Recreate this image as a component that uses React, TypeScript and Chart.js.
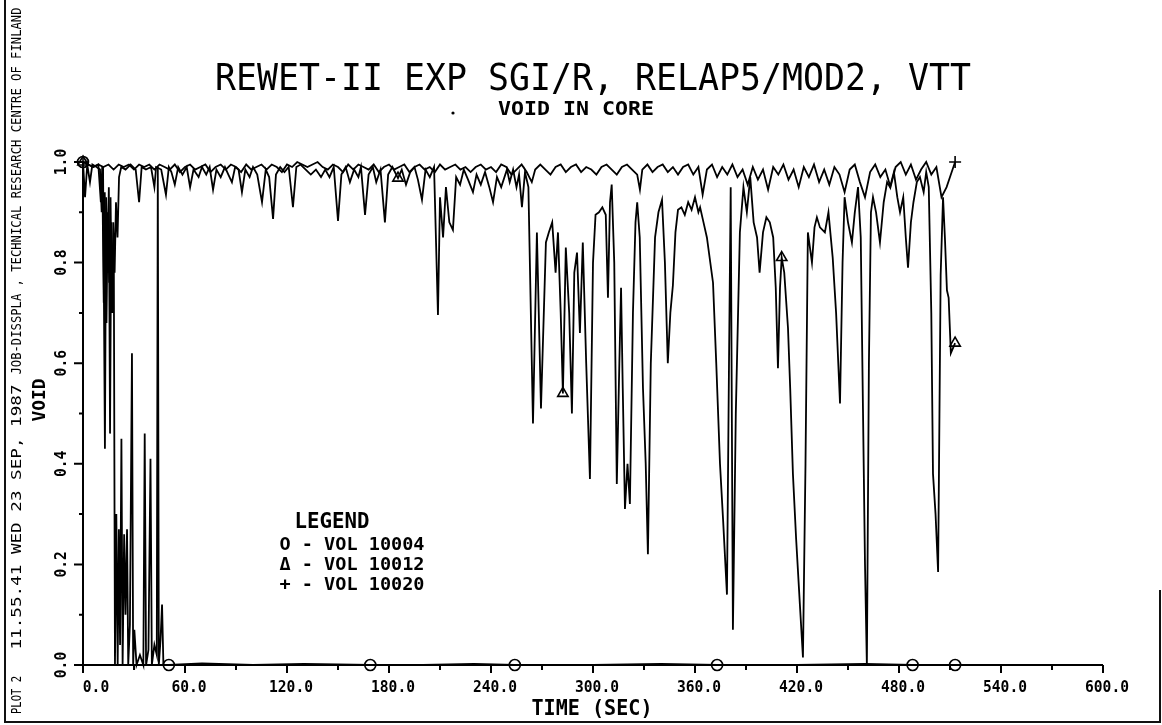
import React, { useEffect, useRef } from 'react';
import { Chart, registerables } from 'chart.js';

Chart.register(...registerables);

// ---------- data (time in s, void fraction) ----------
const vol10004: [number, number][] = [
  [0, 1.0], [1.2, 0.93], [2.5, 0.995], [4.1, 0.96], [5.5, 0.995], [8, 0.99], [10, 0.985], [11, 0.9],
  [11.8, 0.99], [12.9, 0.43], [13.6, 0.93], [14.4, 0.78], [15.2, 0.95], [15.9, 0.46], [16.6, 0.88],
  [17.4, 0.7], [18.1, 0.84], [18.8, 0.0], [19.6, 0.3], [20.4, 0.0], [21.1, 0.27], [21.8, 0.04],
  [22.6, 0.45], [23.3, 0.0], [24.2, 0.26], [25.0, 0.1], [25.9, 0.27], [26.6, 0.0], [27.6, 0.08],
  [28.8, 0.62], [29.5, 0.0], [30.2, 0.07], [31.5, 0.0], [33.5, 0.02], [35.5, 0.0], [36.3, 0.46],
  [37.1, 0.0], [38.5, 0.03], [39.7, 0.41], [40.5, 0.0], [42, 0.04], [43.4, 0.02], [44.0, 0.99],
  [44.6, 0.0], [45.6, 0.05], [46.5, 0.12], [47.3, 0.0], [50.5, 0.0], [70, 0.003], [100, 0.0],
  [130, 0.002], [169, 0.0], [200, 0.0], [230, 0.002], [254, 0.0], [300, 0.0], [340, 0.002],
  [373, 0.0], [420, 0.0], [460, 0.002], [488, 0.0], [513, 0.0],
];

const vol10012: [number, number][] = [
  [0, 1.0], [3, 0.995], [6, 0.99], [9, 0.995], [10.5, 0.92], [11.3, 0.99], [12.2, 0.72], [12.8, 0.94],
  [13.8, 0.68], [14.6, 0.9], [15.4, 0.76], [16.2, 0.93], [17.0, 0.7], [17.8, 0.88], [18.6, 0.78],
  [19.4, 0.92], [20.3, 0.85], [21.2, 0.97], [22.5, 0.99], [25, 0.985], [28, 0.995], [31, 0.985],
  [33, 0.92], [34.5, 0.99], [37, 0.985], [40, 0.99], [42, 0.95], [43, 0.99], [46, 0.985],
  [48.8, 0.935], [50.5, 0.99], [52, 0.98], [54, 0.955], [56, 0.99], [58.5, 0.975], [61, 0.99],
  [63, 0.95], [65, 0.985], [68, 0.97], [70, 0.99], [72.5, 0.975], [74.5, 0.99], [76.5, 0.945],
  [78.5, 0.985], [81, 0.97], [83.5, 0.99], [85.5, 0.975], [87.6, 0.96], [89.5, 0.99], [91.5, 0.985],
  [93.5, 0.94], [95.5, 0.985], [98, 0.97], [100, 0.99], [102.5, 0.975], [105.3, 0.92], [107.5, 0.985],
  [109.5, 0.97], [111.8, 0.887], [113.5, 0.975], [116, 0.99], [118.5, 0.98], [121, 0.99],
  [123.5, 0.91], [125.5, 0.99], [128, 0.995], [131, 0.985], [134, 0.975], [137, 0.985], [140, 0.97],
  [142.5, 0.985], [145, 0.97], [147.5, 0.99], [150, 0.883], [152, 0.975], [154.5, 0.99], [157, 0.96],
  [159.5, 0.985], [162, 0.97], [163.5, 0.99], [165.9, 0.895], [168, 0.975], [170.5, 0.99],
  [172.5, 0.96], [175, 0.985], [177.6, 0.88], [179.5, 0.975], [182, 0.99], [185.3, 0.968],
  [187.5, 0.985], [190, 0.955], [192.5, 0.98], [195, 0.99], [197, 0.965], [199.4, 0.925],
  [201.5, 0.985], [204, 0.97], [206.5, 0.99], [208.8, 0.696], [210, 0.93], [211.8, 0.85],
  [213.5, 0.95], [215.5, 0.88], [217.6, 0.865], [219.5, 0.97], [221.8, 0.955], [224, 0.985],
  [226.5, 0.965], [229.4, 0.94], [231.5, 0.975], [234, 0.955], [236.5, 0.98], [239, 0.95],
  [241.2, 0.92], [243.5, 0.97], [246, 0.95], [249.4, 0.985], [251, 0.96], [253, 0.985], [255, 0.95],
  [256.5, 0.975], [258.2, 0.91], [260, 0.98], [262, 0.95], [264.7, 0.48], [267, 0.86], [269.4, 0.51],
  [272.3, 0.84], [274, 0.86], [276, 0.88], [278, 0.78], [279.4, 0.86], [281, 0.7], [282.3, 0.54],
  [284, 0.83], [286, 0.7], [287.6, 0.5], [289, 0.78], [290.6, 0.82], [292.3, 0.66], [294, 0.84],
  [296, 0.6], [298.2, 0.37], [300, 0.8], [301.5, 0.895], [303.5, 0.9], [305.5, 0.91], [307.5, 0.895],
  [308.8, 0.73], [310, 0.92], [311, 0.955], [312.5, 0.8], [314, 0.36], [315.5, 0.6], [316.5, 0.75],
  [317.5, 0.55], [318.8, 0.31], [320.3, 0.4], [321.7, 0.32], [323.5, 0.7], [325, 0.88], [326, 0.92],
  [327.5, 0.85], [329.4, 0.55], [331, 0.4], [332.3, 0.22], [334, 0.6], [336.5, 0.85], [338.5, 0.9],
  [340.6, 0.925], [342.3, 0.8], [344, 0.6], [345.5, 0.7], [347, 0.755], [348.5, 0.86], [350, 0.905],
  [352, 0.91], [354, 0.895], [356, 0.92], [358, 0.905], [360, 0.93], [362, 0.9], [363, 0.91],
  [365, 0.88], [367, 0.85], [370.6, 0.76], [372.5, 0.6], [374.7, 0.4], [376.5, 0.29], [378.8, 0.14],
  [380, 0.6], [381, 0.95], [382.3, 0.07], [384, 0.5], [386.4, 0.86], [388.5, 0.95], [390.5, 0.9],
  [392.5, 0.97], [394.5, 0.88], [396.5, 0.85], [398, 0.78], [400, 0.86], [402, 0.89], [404, 0.88],
  [406, 0.85], [407.5, 0.75], [408.8, 0.59], [410, 0.75], [411, 0.81], [412.5, 0.78], [414.7, 0.67],
  [416, 0.55], [417.6, 0.38], [419.5, 0.25], [421.7, 0.12], [423.5, 0.015], [425, 0.4], [426.4, 0.86],
  [428.8, 0.8], [430.3, 0.87], [431.7, 0.89], [433.5, 0.87], [436.4, 0.86], [438.5, 0.9], [441, 0.81],
  [443, 0.7], [445.3, 0.52], [446.8, 0.8], [448, 0.93], [450, 0.88], [452.3, 0.84], [454, 0.9],
  [455.9, 0.95], [457.5, 0.85], [458.8, 0.51], [460, 0.2], [461.1, 0.0], [462.3, 0.6], [463.5, 0.9],
  [464.7, 0.93], [466.5, 0.9], [468.8, 0.84], [471, 0.92], [473, 0.96], [474.7, 0.95], [477, 0.98],
  [479, 0.93], [480.6, 0.9], [482.5, 0.93], [484, 0.85], [485.3, 0.79], [487, 0.88], [488.5, 0.92],
  [490.5, 0.96], [492.3, 0.97], [494.5, 0.94], [496, 0.98], [497.5, 0.95], [499, 0.7], [500, 0.38],
  [501.5, 0.3], [503, 0.185], [503.8, 0.5], [504.5, 0.775], [505.9, 0.93], [507, 0.85], [508.2, 0.745],
  [509.2, 0.73], [510.5, 0.62], [513, 0.64],
];

const vol10020: [number, number][] = [
  [0, 1.0], [3, 0.995], [6, 0.99], [9, 0.995], [12, 0.99], [15, 0.995], [18, 0.985], [21, 0.995],
  [24, 0.99], [27, 0.995], [30, 0.985], [33, 0.995], [36, 0.99], [39, 0.995], [42, 0.985], [45, 0.995],
  [48, 0.99], [51, 0.985], [54, 0.995], [57, 0.98], [60, 0.99], [63, 0.995], [66, 0.985], [69, 0.99],
  [72, 0.995], [75, 0.98], [78, 0.99], [81, 0.995], [84, 0.985], [87, 0.995], [90, 0.99], [93, 0.98],
  [96, 0.995], [99, 0.985], [102, 0.99], [105, 0.995], [108, 0.985], [111, 0.995], [114, 0.99],
  [117, 0.98], [120, 0.995], [123, 0.99], [126, 1.0], [129, 0.995], [132, 0.99], [135, 0.995],
  [138, 1.0], [141, 0.99], [144, 0.985], [147, 0.995], [150, 0.99], [153, 0.98], [156, 0.995],
  [159, 0.985], [162, 0.995], [165, 0.99], [168, 0.985], [171, 0.995], [174, 0.98], [177, 0.99],
  [180, 0.995], [183, 0.985], [186, 0.99], [189, 0.995], [192, 0.98], [195, 0.99], [198, 0.995],
  [201, 0.985], [204, 0.99], [207, 0.98], [210, 0.995], [213, 0.985], [216, 0.99], [219, 0.995],
  [222, 0.985], [225, 0.99], [228, 0.98], [231, 0.99], [234, 0.995], [237, 0.985], [240, 0.99],
  [243, 0.98], [246, 0.995], [249, 0.99], [252, 0.975], [255, 0.985], [258, 0.995], [261, 0.98],
  [264, 0.96], [266, 0.985], [269, 0.995], [272, 0.985], [275, 0.975], [278, 0.99], [281, 0.995],
  [284, 0.98], [287, 0.99], [290, 0.995], [293, 0.98], [296, 0.99], [299, 0.985], [302, 0.975],
  [305, 0.99], [308, 0.995], [311, 0.985], [314, 0.975], [317, 0.99], [320, 0.995], [323, 0.985],
  [326, 0.975], [327.6, 0.945], [329, 0.985], [332, 0.995], [335, 0.98], [338, 0.99], [341, 0.995],
  [344, 0.98], [347, 0.99], [350, 0.975], [353, 0.99], [356, 0.995], [359, 0.975], [362, 0.99],
  [364.5, 0.935], [367, 0.985], [370, 0.995], [373, 0.97], [376, 0.99], [379, 0.975], [382, 0.995],
  [385, 0.97], [388, 0.985], [391, 0.955], [394, 0.99], [397, 0.965], [400, 0.985], [403, 0.945],
  [406, 0.99], [409, 0.975], [412, 0.995], [415, 0.965], [418, 0.985], [421, 0.95], [424, 0.99],
  [427, 0.97], [430, 0.995], [433, 0.96], [436, 0.985], [439, 0.955], [442, 0.99], [445, 0.975],
  [448, 0.94], [451, 0.985], [454, 0.995], [457, 0.96], [460, 0.93], [463, 0.98], [466, 0.995],
  [469, 0.97], [472, 0.985], [475, 0.95], [478, 0.99], [481, 1.0], [484, 0.975], [487, 0.995],
  [490, 0.965], [493, 0.985], [496, 1.0], [499, 0.975], [502, 0.99], [505, 0.93], [508, 0.95],
  [510.5, 0.975], [513, 1.0],
];

// times where the plotter placed a symbol on each curve
const marks10004 = [0, 50.5, 169, 254, 373, 488, 513];
const marks10012 = [0, 185.3, 282.3, 411, 513];
const marks10020 = [0, 513];

const xTicks = [0, 60, 120, 180, 240, 300, 360, 420, 480, 540, 600];
const xMinorTicks = [30, 90, 150, 210, 270, 330, 390, 450, 510, 570];
const yTicks = [0, 0.2, 0.4, 0.6, 0.8, 1.0];
const yMinorTicks = [0.1, 0.3, 0.5, 0.7, 0.9];

const titleText = 'REWET-II EXP SGI/R, RELAP5/MOD2, VTT';
const subtitleText = 'VOID IN CORE';
const xTitle = 'TIME (SEC)';
const yTitle = 'VOID';
const legendTitle = 'LEGEND';
const legendLines = ['O - VOL 10004', '\u0394 - VOL 10012', '+ - VOL 10020'];
const marginTexts = ['JOB-DISSPLA , TECHNICAL RESEARCH CENTRE OF FINLAND', '11.55.41 WED 23 SEP, 1987', 'PLOT 2'];

const FONT = "'DejaVu Sans Mono', monospace";

function fitText(
  ctx: CanvasRenderingContext2D, text: string, cx: number, cy: number,
  capH: number, width: number, rot = 0, weight = 'normal'
) {
  const size = capH / 0.73;
  ctx.save();
  ctx.font = `${weight} ${size}px ${FONT}`;
  const w = ctx.measureText(text).width || 1;
  ctx.translate(cx, cy);
  ctx.rotate(rot);
  ctx.scale(width / w, 1);
  ctx.textAlign = 'center';
  ctx.textBaseline = 'alphabetic';
  ctx.fillStyle = '#000';
  ctx.fillText(text, 0, capH / 2);
  ctx.restore();
}

const toXY = (arr: [number, number][]) => arr.map(([x, y]) => ({ x, y }));

const markerRadius = (marks: number[], r: number) => (ctx: any) => {
  if (ctx.type !== 'data' || !ctx.raw) return 0;
  return marks.includes(ctx.raw.x) ? r : 0;
};

const decorPlugin = {
  id: 'decor',
  beforeDraw(chart: any) {
    const ctx = chart.ctx as CanvasRenderingContext2D;
    ctx.save();
    ctx.fillStyle = '#fff';
    ctx.fillRect(0, 0, chart.width, chart.height);
    ctx.restore();
  },
  afterDraw(chart: any) {
    const ctx = chart.ctx as CanvasRenderingContext2D;
    const xs = chart.scales.x;
    const ys = chart.scales.y;
    const x0 = xs.getPixelForValue(0);
    const y0 = ys.getPixelForValue(0);
    ctx.save();
    ctx.strokeStyle = '#000';
    ctx.lineWidth = 2;
    ctx.lineCap = 'butt';
    ctx.beginPath();
    ctx.moveTo(x0, ys.getPixelForValue(1));
    ctx.lineTo(x0, y0);
    ctx.lineTo(xs.getPixelForValue(600), y0);
    ctx.stroke();
    ctx.beginPath();
    xTicks.forEach((v) => {
      const p = xs.getPixelForValue(v);
      ctx.moveTo(p, y0);
      ctx.lineTo(p, y0 + 8);
    });
    xMinorTicks.forEach((v) => {
      const p = xs.getPixelForValue(v);
      ctx.moveTo(p, y0);
      ctx.lineTo(p, y0 + 5);
    });
    yTicks.forEach((v) => {
      const p = ys.getPixelForValue(v);
      ctx.moveTo(x0, p);
      ctx.lineTo(x0 - 9, p);
    });
    yMinorTicks.forEach((v) => {
      const p = ys.getPixelForValue(v);
      ctx.moveTo(x0, p);
      ctx.lineTo(x0 - 4, p);
    });
    ctx.stroke();

    xTicks.forEach((v, i) => {
      const s = v.toFixed(1);
      const shift = i === 0 ? 13 : 4;
      fitText(ctx, s, xs.getPixelForValue(v) + shift, y0 + 21, 12, 8.8 * s.length, 0, 'bold');
    });
    yTicks.forEach((v) => {
      const s = v.toFixed(1);
      fitText(ctx, s, x0 - 23, ys.getPixelForValue(v), 12, 8.8 * s.length, -Math.PI / 2, 'bold');
    });

    fitText(ctx, xTitle, 592, 707, 15, 121, 0, 'bold');
    fitText(ctx, yTitle, 38, 400, 13, 43, -Math.PI / 2, 'bold');

    fitText(ctx, titleText, 593, 76, 27, 756, 0, 'normal');
    fitText(ctx, subtitleText, 576, 108, 14, 156, 0, 'bold');
    ctx.beginPath();
    ctx.fillStyle = '#000';
    ctx.arc(453, 113, 1.6, 0, Math.PI * 2);
    ctx.fill();

    fitText(ctx, legendTitle, 332, 520, 15, 75, 0, 'bold');
    legendLines.forEach((s, i) => {
      fitText(ctx, s, 352, 543 + i * 20, 13, 145, 0, 'bold');
    });

    fitText(ctx, marginTexts[0], 16, 191, 10, 367, -Math.PI / 2, 'normal');
    fitText(ctx, marginTexts[1], 16, 517, 10, 265, -Math.PI / 2, 'normal');
    fitText(ctx, marginTexts[2], 16, 695, 10, 38, -Math.PI / 2, 'normal');

    ctx.lineWidth = 2;
    ctx.strokeStyle = '#111';
    ctx.beginPath();
    ctx.moveTo(5, 0);
    ctx.lineTo(5, 722);
    ctx.lineTo(1160, 722);
    ctx.lineTo(1160, 590);
    ctx.stroke();
    ctx.restore();
  },
};

export default function App() {
  const ref = useRef<HTMLCanvasElement | null>(null);
  useEffect(() => {
    if (!ref.current) return;
    const common = {
      borderColor: '#000',
      borderWidth: 1.8,
      tension: 0,
      fill: false,
      clip: false as any,
      pointBorderColor: '#000',
      pointBackgroundColor: 'rgba(0,0,0,0)',
      pointBorderWidth: 1.6,
      pointHoverRadius: 0,
    };
    const chart = new Chart(ref.current, {
      type: 'line',
      data: {
        datasets: [
          { ...common, label: 'VOL 10004', data: toXY(vol10004), pointStyle: 'circle', pointRadius: markerRadius(marks10004, 5.5) },
          { ...common, label: 'VOL 10012', data: toXY(vol10012), pointStyle: 'triangle', pointRadius: markerRadius(marks10012, 6) },
          { ...common, label: 'VOL 10020', data: toXY(vol10020), pointStyle: 'cross', pointRadius: markerRadius(marks10020, 6) },
        ] as any,
      },
      options: {
        animation: false,
        responsive: false,
        maintainAspectRatio: false,
        parsing: false as any,
        normalized: true,
        events: [],
        layout: { padding: { left: 83, right: 59, top: 162, bottom: 60 } },
        scales: {
          x: { type: 'linear', min: 0, max: 600, display: false },
          y: { type: 'linear', min: 0, max: 1, display: false },
        },
        plugins: {
          legend: { display: false },
          title: { display: false },
          tooltip: { enabled: false },
        },
      },
      plugins: [decorPlugin],
    });
    return () => chart.destroy();
  }, []);
  return (
    <div style={{ position: 'absolute', left: 0, top: 0, width: 1162, height: 725, background: '#fff' }}>
      <canvas ref={ref} width={1162} height={725} style={{ display: 'block', width: 1162, height: 725 }} />
    </div>
  );
}
